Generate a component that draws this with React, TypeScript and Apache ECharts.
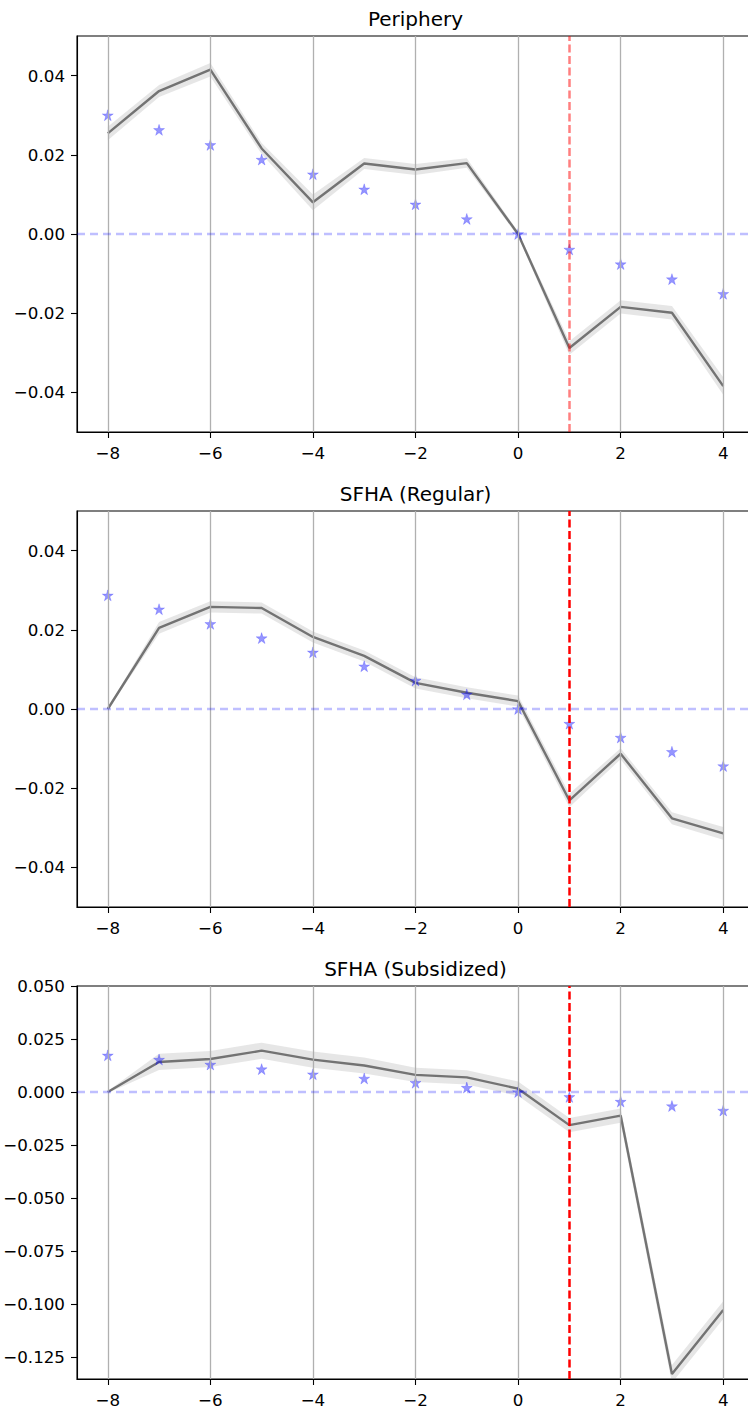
import React, { useEffect, useRef } from "react";
import * as echarts from "echarts";

const X = [-8, -7, -6, -5, -4, -3, -2, -1, 0, 1, 2, 3, 4];
const X_TICKS = [-8, -6, -4, -2, 0, 2, 4];
const TITLES = ["Periphery", "SFHA (Regular)", "SFHA (Subsidized)"];

const peripheryLine = [0.0254, 0.0361, 0.0415, 0.0216, 0.008, 0.0178, 0.0163, 0.0179, 0.0, -0.0288, -0.0184, -0.0199, -0.0384];
const peripheryBand = [0.0017, 0.0015, 0.0017, 0.0014, 0.002, 0.0014, 0.0014, 0.0012, 0.0006, 0.0017, 0.0017, 0.0017, 0.0022];
const peripheryStars = [0.03, 0.0263, 0.0225, 0.0188, 0.0151, 0.0113, 0.0075, 0.0038, 0.0, -0.0039, -0.0076, -0.0114, -0.0151];

const regularLine = [0.0, 0.0205, 0.0258, 0.0255, 0.0182, 0.0134, 0.0066, 0.0041, 0.002, -0.0231, -0.0113, -0.0276, -0.0314];
const regularBand = [0.0003, 0.0015, 0.0014, 0.0014, 0.0014, 0.0014, 0.0014, 0.0014, 0.0014, 0.0017, 0.0014, 0.0015, 0.0016];
const regularStars = [0.0287, 0.0252, 0.0215, 0.0179, 0.0143, 0.0108, 0.0072, 0.0037, 0.0, -0.0037, -0.0072, -0.0108, -0.0144];

const subsidizedLine = [0.0, 0.0142, 0.0156, 0.0195, 0.0153, 0.0125, 0.0081, 0.0069, 0.0016, -0.0156, -0.0111, -0.1329, -0.1028];
const subsidizedBand = [0.0005, 0.0038, 0.0038, 0.0038, 0.0038, 0.0038, 0.0034, 0.0034, 0.0034, 0.0034, 0.0034, 0.0042, 0.0042];
const subsidizedStars = [0.0173, 0.0153, 0.013, 0.0108, 0.0084, 0.0064, 0.0044, 0.0021, 0.0, -0.0023, -0.0045, -0.0066, -0.0087];

const Y_TICKS_A = [-0.04, -0.02, 0, 0.02, 0.04];
const Y_TICKS_C = [-0.125, -0.1, -0.075, -0.05, -0.025, 0, 0.025, 0.05];

const PANELS = [
  { line: peripheryLine, band: peripheryBand, stars: peripheryStars, yMin: -0.05, yMax: 0.05, yTicks: Y_TICKS_A, dec: 2, red: "rgba(255,0,0,0.5)" },
  { line: regularLine, band: regularBand, stars: regularStars, yMin: -0.05, yMax: 0.05, yTicks: Y_TICKS_A, dec: 2, red: "#ff0000" },
  { line: subsidizedLine, band: subsidizedBand, stars: subsidizedStars, yMin: -0.1353, yMax: 0.05, yTicks: Y_TICKS_C, dec: 3, red: "#ff0000" },
];

const STAR =
  "path://M0,-10L2.245,-3.09L9.51,-3.09L3.633,1.18L5.878,8.09L0,3.82L-5.878,8.09L-3.633,1.18L-9.51,-3.09L-2.245,-3.09Z";

const FONT = "DejaVu Sans";
const fmt = (v: number, d: number) => (v < 0 ? "\u2212" : "") + Math.abs(v).toFixed(d);

export default function App() {
  const ref = useRef<HTMLDivElement>(null);
  useEffect(() => {
    if (!ref.current) return;
    const chart = echarts.init(ref.current, null, { renderer: "svg" });
    const tops = [36, 511, 986];
    const H = 396;
    const grids: any[] = [];
    const xAxes: any[] = [];
    const yAxes: any[] = [];
    const series: any[] = [];
    const graphics: any[] = [];
    PANELS.forEach((p, i) => {
      grids.push({ left: 77, top: tops[i], width: 677, height: H, show: true, borderColor: "#000", borderWidth: 1.1, containLabel: false });
      xAxes.push({
        type: "value", gridIndex: i, min: -8.6, max: 4.6,
        axisLine: { show: true, onZero: false, lineStyle: { color: "#000", width: 1.1 } },
        axisTick: { show: true, length: 6, customValues: X_TICKS, lineStyle: { color: "#000", width: 1.1 } },
        axisLabel: { customValues: X_TICKS, margin: 12, color: "#000", fontSize: 16.7, fontFamily: FONT, formatter: (v: number) => fmt(v, 0) },
        splitLine: { show: false },
      });
      yAxes.push({
        type: "value", gridIndex: i, min: p.yMin, max: p.yMax,
        axisLine: { show: true, onZero: false, lineStyle: { color: "#000", width: 1.1 } },
        axisTick: { show: true, length: 6, customValues: p.yTicks, lineStyle: { color: "#000", width: 1.1 } },
        axisLabel: { customValues: p.yTicks, margin: 12, color: "#000", fontSize: 16.7, fontFamily: FONT, formatter: (v: number) => fmt(v, p.dec) },
        splitLine: { show: false },
      });
      // vertical grid lines
      series.push({
        type: "line", xAxisIndex: i, yAxisIndex: i, data: [], z: 1, silent: true,
        markLine: {
          silent: true, symbol: "none", label: { show: false }, animation: false,
          lineStyle: { color: "#b0b0b0", width: 1.3, type: "solid" },
          data: X_TICKS.map((x) => ({ xAxis: x })),
        },
      });
      // confidence band
      series.push({
        type: "custom", xAxisIndex: i, yAxisIndex: i, data: [0], z: 2, clip: true, silent: true,
        renderItem: (params: any, api: any) => {
          const upper = X.map((x, k) => api.coord([x, p.line[k] + p.band[k]]));
          const lower = X.map((x, k) => api.coord([x, p.line[k] - p.band[k]])).reverse();
          return { type: "polygon", shape: { points: upper.concat(lower) }, style: { fill: "rgba(128,128,128,0.2)" } };
        },
      });
      // main line
      series.push({
        type: "line", xAxisIndex: i, yAxisIndex: i, z: 3, symbol: "none", silent: true,
        data: X.map((x, k) => [x, p.line[k]]),
        lineStyle: { color: "#737373", width: 2.4 },
      });
      // stars
      series.push({
        type: "scatter", xAxisIndex: i, yAxisIndex: i, z: 4, symbol: STAR, symbolSize: 11, silent: true,
        data: X.map((x, k) => [x, p.stars[k]]),
        itemStyle: { color: "rgba(0,0,255,0.52)", borderColor: "rgba(0,0,255,0.3)", borderWidth: 0.8 },
      });
      // reference lines
      series.push({
        type: "line", xAxisIndex: i, yAxisIndex: i, data: [], z: 5, silent: true,
        markLine: {
          silent: true, symbol: "none", label: { show: false },
          data: [{ yAxis: 0, lineStyle: { color: "rgba(0,0,255,0.25)", width: 2.3, type: [8, 5] } }],
        },
      });
      series.push({
        type: "line", xAxisIndex: i, yAxisIndex: i, data: [], z: 6, silent: true,
        markLine: {
          silent: true, symbol: "none", label: { show: false },
          data: [{ xAxis: 1, lineStyle: { color: p.red, width: 2.5, type: [8, 3.5] } }],
        },
      });
      graphics.push({
        type: "text", x: 415.5, y: tops[i] - 17.5,
        style: { text: TITLES[i], fill: "#000", font: `20px "${FONT}"`, textAlign: "center", textVerticalAlign: "middle" },
      });
    });
    chart.setOption({
      animation: false,
      backgroundColor: "#fff",
      grid: grids,
      xAxis: xAxes,
      yAxis: yAxes,
      series,
      graphic: graphics,
    });
    return () => chart.dispose();
  }, []);
  return (
    <div style={{ position: "absolute", left: 0, top: 0, width: 748, height: 1408, overflow: "hidden", background: "#fff" }}>
      <div ref={ref} style={{ width: 760, height: 1408 }} />
    </div>
  );
}
